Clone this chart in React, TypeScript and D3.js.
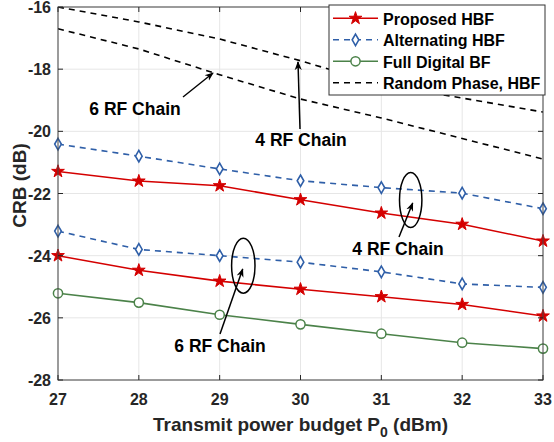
import * as React from 'react';
import * as d3 from 'd3';

const power = [27, 28, 29, 30, 31, 32, 33];
const yTicks = [-28, -26, -24, -22, -20, -18, -16];

// 4 RF chains
const proposed4 = [-21.29, -21.6, -21.75, -22.2, -22.63, -22.99, -23.53];
const alternating4 = [-20.41, -20.8, -21.21, -21.59, -21.81, -21.99, -22.49];
const random4 = [-16.0, -16.48, -17.03, -17.73, -18.5, -18.93, -19.38];

// 6 RF chains
const proposed6 = [-24.0, -24.47, -24.82, -25.08, -25.32, -25.57, -25.94];
const alternating6 = [-23.21, -23.8, -24.0, -24.21, -24.52, -24.91, -25.02];
const random6 = [-16.7, -17.35, -18.18, -18.96, -19.57, -20.23, -20.89];

const fullDigital = [-25.21, -25.51, -25.9, -26.21, -26.51, -26.8, -26.99];

const legendLabels = ['Proposed HBF', 'Alternating HBF', 'Full Digital BF', 'Random Phase, HBF'];

const RED = '#d40000';
const BLUE = '#2f5fa8';
const GREEN = '#4b8249';
const FONT = '"Liberation Sans", Arial, Helvetica, sans-serif';
const TEXT = '#262626';

const width = 554;
const height = 442;
const margin = { top: 7, right: 11, bottom: 62, left: 58 };

export default function App() {
  const x = d3
    .scaleLinear()
    .domain([27, 33])
    .range([margin.left, width - margin.right]);
  const y = d3
    .scaleLinear()
    .domain([-28, -16])
    .range([height - margin.bottom, margin.top]);

  const line = d3
    .line<number>()
    .x((_, i) => x(power[i]))
    .y(d => y(d));

  const star = d3.symbol().type(d3.symbolStar).size(50)() as string;
  const diamond = d3.symbol().type(d3.symbolDiamond).size(38)() as string;

  const x0 = x(27);
  const x1 = x(33);
  const y0 = y(-28);
  const y1 = y(-16);

  const series = [
    { data: random4, color: '#000', dash: '6,5', marker: null },
    { data: random6, color: '#000', dash: '6,5', marker: null },
    { data: alternating4, color: BLUE, dash: '6,5', marker: 'diamond' },
    { data: alternating6, color: BLUE, dash: '6,5', marker: 'diamond' },
    { data: proposed4, color: RED, dash: null, marker: 'star' },
    { data: proposed6, color: RED, dash: null, marker: 'star' },
    { data: fullDigital, color: GREEN, dash: null, marker: 'circle' },
  ];

  const drawMarker = (kind: string | null, cx: number, cy: number, color: string, key: number) => {
    if (kind === 'star') {
      return <path key={key} d={star} transform={`translate(${cx},${cy})`} fill={color} stroke={color} strokeWidth={1} />;
    }
    if (kind === 'diamond') {
      return <path key={key} d={diamond} transform={`translate(${cx},${cy})`} fill="white" stroke={color} strokeWidth={1.6} />;
    }
    if (kind === 'circle') {
      return <circle key={key} cx={cx} cy={cy} r={4.6} fill="white" stroke={color} strokeWidth={1.5} />;
    }
    return null;
  };

  const legend = { x: 329, y: 5, w: 216, h: 90 };
  const legendItems = [
    { label: legendLabels[0], color: RED, dash: null, marker: 'star' },
    { label: legendLabels[1], color: BLUE, dash: '6,5', marker: 'diamond' },
    { label: legendLabels[2], color: GREEN, dash: null, marker: 'circle' },
    { label: legendLabels[3], color: '#000', dash: '6,5', marker: null },
  ];

  return (
    <svg
      width={width}
      height={height}
      style={{ position: 'absolute', left: 0, top: 0, background: 'white' }}
      fontFamily={FONT}
    >
      <defs>
        <marker id="arrow" viewBox="0 0 10 10" refX="9" refY="5" markerWidth="9" markerHeight="9" orient="auto" markerUnits="userSpaceOnUse">
          <path d="M0,1 L10,5 L0,9 L3,5 Z" fill="#000" />
        </marker>
        <clipPath id="plot">
          <rect x={x0} y={y1} width={x1 - x0} height={y0 - y1} />
        </clipPath>
      </defs>

      {/* grid */}
      <g stroke="#e6e6e6" strokeWidth={1}>
        {power.map(p => (
          <line key={`gx${p}`} x1={x(p)} x2={x(p)} y1={y1} y2={y0} />
        ))}
        {yTicks.map(t => (
          <line key={`gy${t}`} x1={x0} x2={x1} y1={y(t)} y2={y(t)} />
        ))}
      </g>

      {/* series */}
      <g clipPath="url(#plot)">
        {series.map((s, i) => (
          <path
            key={`l${i}`}
            d={line(s.data) as string}
            fill="none"
            stroke={s.color}
            strokeWidth={1.6}
            strokeDasharray={s.dash ?? undefined}
          />
        ))}
      </g>
      <g>
        {series.map((s, i) => (
          <g key={`m${i}`}>{s.data.map((v, j) => drawMarker(s.marker, x(power[j]), y(v), s.color, j))}</g>
        ))}
      </g>

      {/* axes box */}
      <g stroke="#262626" strokeWidth={1} fill="none">
        <rect x={x0} y={y1} width={x1 - x0} height={y0 - y1} stroke="#444" />
        {power.map(p => (
          <g key={`tx${p}`}>
            <line x1={x(p)} x2={x(p)} y1={y0} y2={y0 - 5} />
            <line x1={x(p)} x2={x(p)} y1={y1} y2={y1 + 5} />
          </g>
        ))}
        {yTicks.map(t => (
          <g key={`ty${t}`}>
            <line x1={x0} x2={x0 + 5} y1={y(t)} y2={y(t)} />
            <line x1={x1} x2={x1 - 5} y1={y(t)} y2={y(t)} />
          </g>
        ))}
      </g>

      {/* tick labels */}
      <g fill={TEXT} fontSize={16} fontWeight="bold">
        {power.map(p => (
          <text key={`lx${p}`} x={x(p)} y={405} textAnchor="middle">
            {p}
          </text>
        ))}
        {yTicks.map(t => (
          <text key={`ly${t}`} x={x0 - 7} y={y(t) + 6} textAnchor="end">
            {t}
          </text>
        ))}
      </g>

      {/* axis labels */}
      <text x={(x0 + x1) / 2} y={431} textAnchor="middle" fill={TEXT} fontSize={19} fontWeight="bold">
        Transmit power budget P
        <tspan fontSize={14} dy={6}>0</tspan>
        <tspan dy={-6}> (dBm)</tspan>
      </text>
      <text
        transform={`translate(26,${(y0 + y1) / 2 - 8}) rotate(-90)`}
        textAnchor="middle"
        fill={TEXT}
        fontSize={19}
        fontWeight="bold"
      >
        CRB (dB)
      </text>

      {/* annotations */}
      <g fill="#000" fontSize={17.5} fontWeight="bold">
        <text x={135} y={114.5} textAnchor="middle">6 RF Chain</text>
        <line x1={183} y1={97} x2={213} y2={73} stroke="#000" strokeWidth={1.5} markerEnd="url(#arrow)" />

        <text x={301} y={146} textAnchor="middle">4 RF Chain</text>
        <line x1={300} y1={129} x2={298} y2={62} stroke="#000" strokeWidth={1.5} markerEnd="url(#arrow)" />

        <ellipse cx={410.7} cy={200} rx={11.2} ry={27.5} fill="none" stroke="#000" strokeWidth={1.5} />
        <text x={398} y={255} textAnchor="middle">4 RF Chain</text>
        <line x1={399} y1={237} x2={412.7} y2={203} stroke="#000" strokeWidth={1.5} markerEnd="url(#arrow)" />

        <ellipse cx={243.3} cy={265.7} rx={11.7} ry={27.5} fill="none" stroke="#000" strokeWidth={1.5} />
        <text x={220} y={351.5} textAnchor="middle">6 RF Chain</text>
        <line x1={220} y1={334} x2={242.7} y2={269} stroke="#000" strokeWidth={1.5} markerEnd="url(#arrow)" />
      </g>

      {/* legend */}
      <g>
        <rect x={legend.x} y={legend.y} width={legend.w} height={legend.h} fill="white" stroke="#333" strokeWidth={1} />
        {legendItems.map((item, i) => {
          const ly = 18.3 + i * 21.5;
          return (
            <g key={`lg${i}`}>
              <line
                x1={333}
                x2={378}
                y1={ly}
                y2={ly}
                stroke={item.color}
                strokeWidth={1.6}
                strokeDasharray={item.dash ?? undefined}
              />
              {drawMarker(item.marker, 355.5, ly, item.color, i)}
              <text x={383} y={ly + 6.5} fill="#000" fontSize={16} fontWeight="bold">
                {item.label}
              </text>
            </g>
          );
        })}
      </g>
    </svg>
  );
}
